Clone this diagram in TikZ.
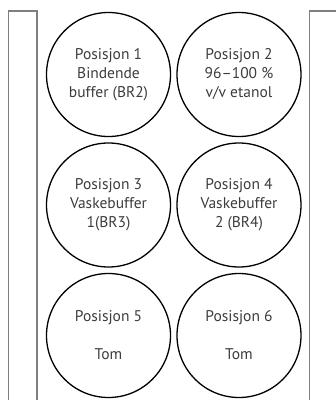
\documentclass[tikz,border=0pt]{standalone}
\usepackage{fontspec}
\setmainfont{PT Sans}
\definecolor{txt}{HTML}{3C3C3C}
\definecolor{bar}{HTML}{7F7F7F}
\begin{document}
\begin{tikzpicture}[x=1pt,y=-1pt,
  well/.style={circle,draw=black,line width=1.3pt,minimum size=124pt,inner sep=0pt,
    align=center,text=txt,font=\fontsize{15.5}{19}\selectfont},
  barline/.style={draw=bar,line width=1.5pt}]
\useasboundingbox (0,0) rectangle (336,400);
\begin{scope}
\clip (0,0) rectangle (336,400);
\draw[barline] (8.5,402) -- (8.5,11) -- (37,11) -- (37,402);
\draw[barline] (309.5,402) -- (309.5,11) -- (340,11);
\end{scope}
\node[well] (p1) at (108.5,74.5) {Posisjon 1\\Bindende\\buffer (BR2)};
\node[well] (p2) at (239,74.5) {Posisjon 2\\96–100 \%\\v/v etanol};
\node[well] (p3) at (108.5,205) {Posisjon 3\\Vaskebuffer\\1(BR3)};
\node[well] (p4) at (239,205) {Posisjon 4\\Vaskebuffer\\2 (BR4)};
\node[well] (p5) at (108.5,335.5) {Posisjon 5\\[19pt]Tom};
\node[well] (p6) at (239,335.5) {Posisjon 6\\[19pt]Tom};
\end{tikzpicture}
\end{document}
